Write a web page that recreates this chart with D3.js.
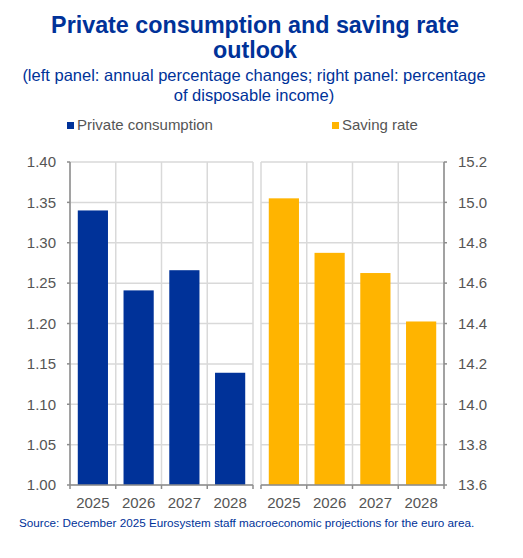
<!DOCTYPE html>
<html>
<head>
<meta charset="utf-8">
<script src="https://cdn.jsdelivr.net/npm/d3@7"></script>
<style>
  body { margin: 0; background: #fff; }
  text { font-family: Arial, "Liberation Sans", sans-serif; }
</style>
</head>
<body>
<div id="chart"></div>
<script>
// data
const years = ["2025", "2026", "2027", "2028"];
const consumption = [1.34, 1.241, 1.266, 1.139];
const savingRate = [15.02, 14.75, 14.65, 14.41];
const leftTicks = [1.00, 1.05, 1.10, 1.15, 1.20, 1.25, 1.30, 1.35, 1.40];
const rightTicks = [13.6, 13.8, 14.0, 14.2, 14.4, 14.6, 14.8, 15.0, 15.2];

const W = 523, H = 558;
const blue = "#003299", yellow = "#ffb400", titleBlue = "#003299";
const gridCol = "#d9d9d9", axisCol = "#8c8c8c", labelCol = "#555555";

const svg = d3.select("#chart").append("svg")
  .attr("width", W).attr("height", H);

// titles
svg.append("text").attr("x", 255).attr("y", 33)
  .attr("text-anchor", "middle").attr("font-size", 23.3).attr("font-weight", "bold")
  .attr("fill", titleBlue).text("Private consumption and saving rate");
svg.append("text").attr("x", 255).attr("y", 58)
  .attr("text-anchor", "middle").attr("font-size", 23.3).attr("font-weight", "bold")
  .attr("fill", titleBlue).text("outlook");
svg.append("text").attr("x", 254).attr("y", 81)
  .attr("text-anchor", "middle").attr("font-size", 16.5)
  .attr("fill", titleBlue).text("(left panel: annual percentage changes; right panel: percentage");
svg.append("text").attr("x", 254).attr("y", 101)
  .attr("text-anchor", "middle").attr("font-size", 16.5)
  .attr("fill", titleBlue).text("of disposable income)");

// legend
const legend = [
  {label: "Private consumption", color: blue, x: 67},
  {label: "Saving rate", color: yellow, x: 332}
];
legend.forEach(function(l) {
  svg.append("rect").attr("x", l.x).attr("y", 122).attr("width", 7).attr("height", 7).attr("fill", l.color);
  svg.append("text").attr("x", l.x + 10).attr("y", 130).attr("font-size", 15)
    .attr("fill", labelCol).text(l.label);
});

const plotTop = 162, plotBottom = 485;

function panel(x0, x1, values, ticks, color, side) {
  const x = d3.scaleBand().domain(years).range([x0, x1])
    .paddingInner(0.34).paddingOuter(0.17);
  const y = d3.scaleLinear().domain([ticks[0], ticks[ticks.length - 1]]).range([plotBottom, plotTop]);
  const step = x.step();
  const g = svg.append("g");

  // horizontal grid
  g.selectAll(".hg").data(ticks).enter().append("line")
    .attr("x1", x0).attr("x2", x1)
    .attr("y1", d => y(d)).attr("y2", d => y(d))
    .attr("stroke", gridCol).attr("stroke-width", 1.5);
  // vertical grid at category boundaries
  g.selectAll(".vg").data(d3.range(years.length + 1)).enter().append("line")
    .attr("x1", i => x0 + i * step).attr("x2", i => x0 + i * step)
    .attr("y1", plotTop).attr("y2", plotBottom)
    .attr("stroke", gridCol).attr("stroke-width", 1.5);

  // bars
  g.selectAll(".bar").data(values).enter().append("rect")
    .attr("x", (d, i) => x(years[i])).attr("width", x.bandwidth())
    .attr("y", d => y(d)).attr("height", d => plotBottom - y(d))
    .attr("fill", color);

  // x axis with ticks at boundaries
  g.append("line").attr("x1", x0).attr("x2", x1).attr("y1", plotBottom).attr("y2", plotBottom)
    .attr("stroke", axisCol).attr("stroke-width", 1.5);
  g.selectAll(".xt").data(d3.range(years.length + 1)).enter().append("line")
    .attr("x1", i => x0 + i * step).attr("x2", i => x0 + i * step)
    .attr("y1", plotBottom).attr("y2", plotBottom + 4)
    .attr("stroke", axisCol).attr("stroke-width", 1.5);
  g.selectAll(".xl").data(years).enter().append("text")
    .attr("x", d => x(d) + x.bandwidth() / 2).attr("y", 508)
    .attr("text-anchor", "middle").attr("font-size", 15).attr("fill", labelCol)
    .text(d => d);

  // y axis
  const ax = side === "left" ? x0 : x1;
  g.append("line").attr("x1", ax).attr("x2", ax).attr("y1", plotTop).attr("y2", plotBottom)
    .attr("stroke", axisCol).attr("stroke-width", 1.5);
  const dir = side === "left" ? -1 : 1;
  g.selectAll(".yt").data(ticks).enter().append("line")
    .attr("x1", ax).attr("x2", ax + dir * 3)
    .attr("y1", d => y(d)).attr("y2", d => y(d))
    .attr("stroke", axisCol).attr("stroke-width", 1.5);
  const fmt = side === "left" ? d3.format(".2f") : d3.format(".1f");
  g.selectAll(".yl").data(ticks).enter().append("text")
    .attr("x", side === "left" ? ax - 14 : ax + 14)
    .attr("y", d => y(d)).attr("dy", "0.35em")
    .attr("text-anchor", side === "left" ? "end" : "start")
    .attr("font-size", 15).attr("fill", labelCol)
    .text(d => fmt(d));
}

panel(70, 253, consumption, leftTicks, blue, "left");
panel(261, 444, savingRate, rightTicks, yellow, "right");

// source
svg.append("text").attr("x", 19).attr("y", 527).attr("font-size", 11.7)
  .attr("fill", titleBlue)
  .text("Source: December 2025 Eurosystem staff macroeconomic projections for the euro area.");
</script>
</body>
</html>
